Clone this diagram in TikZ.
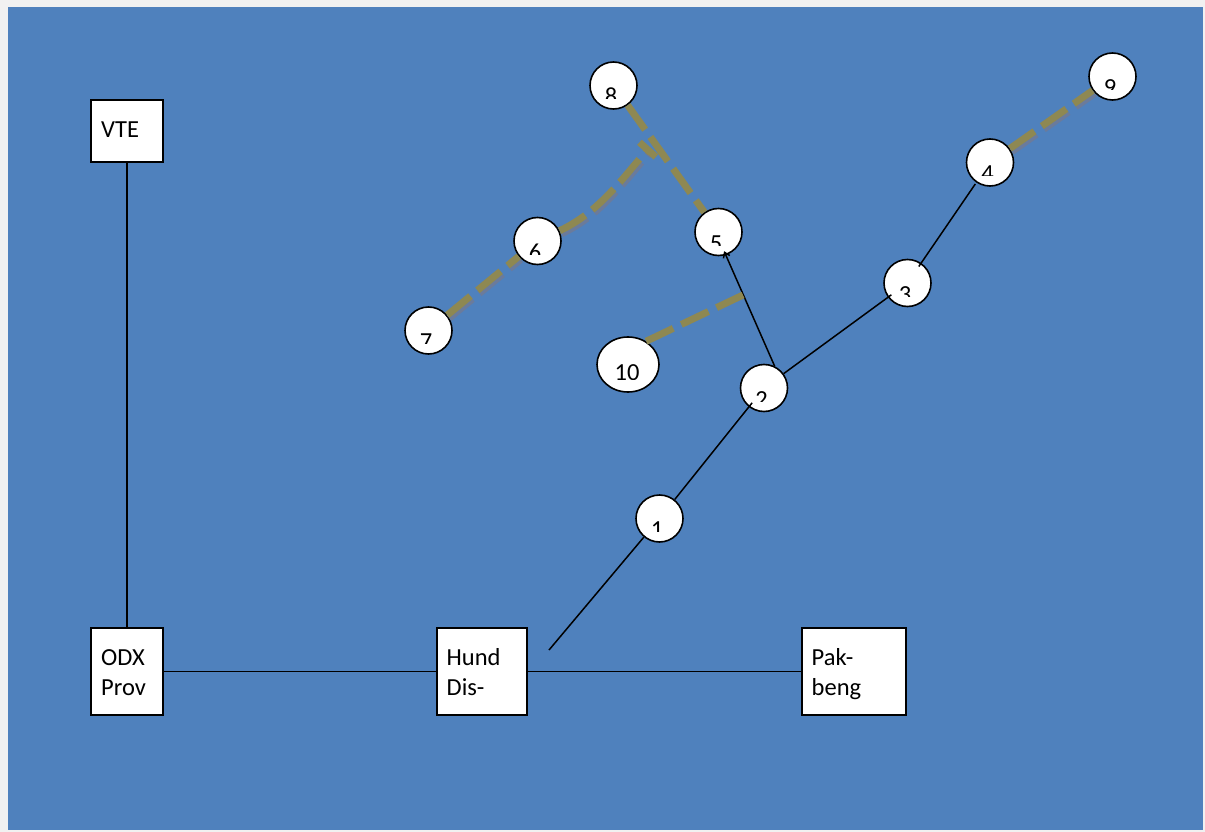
\documentclass[tikz,border=0pt]{standalone}
\usepackage{fontspec}
\setmainfont{Carlito}
\usetikzlibrary{calc,arrows.meta,shapes.geometric}
\definecolor{bg}{RGB}{79,129,189}
\definecolor{pagegray}{RGB}{241,241,241}
\definecolor{olivec}{RGB}{142,136,82}
\definecolor{shadec}{RGB}{106,123,156}
\newcommand\balltext[5]{%
  \begin{scope}
    \clip ($(#1.center)+(-32,-32)$) rectangle ($(#1.center)+(32,#4)$);
    \node[dig] (#2) at ($(#1.center)+(#5)$) {#3};
  \end{scope}}
\begin{document}
\begin{tikzpicture}[x=1pt,y=-1pt,
  box/.style={draw=black,line width=1.6pt,fill=white,inner sep=0pt,anchor=north west},
  lbl/.style={font=\fontsize{24.5}{30}\selectfont,anchor=base west,inner sep=0pt},
  ball/.style={circle,draw=black,line width=1.6pt,fill=white,minimum size=47pt,inner sep=0pt},
  oval/.style={ellipse,draw=black,line width=1.6pt,fill=white,minimum width=62pt,minimum height=55pt,inner sep=0pt},
  dig/.style={font=\fontsize{24.5}{30}\selectfont,anchor=base,inner sep=0pt},
  wire/.style={draw=black,line width=1.5pt},
  olivedash/.style={draw=olivec,line width=7pt,dash pattern=on 30pt off 9pt},
  shadowdash/.style={draw=shadec,line width=7pt,dash pattern=on 30pt off 9pt,transform canvas={xshift=2pt,yshift=-3pt}}]
\useasboundingbox (0,0) rectangle (1205,832);
\fill[pagegray] (0,0) rectangle (1205,832);
\fill[bg] (8,7) rectangle (1203,829.5);

% boxes
\node[box,minimum width=72pt,minimum height=62pt] (vte) at (90,99) {};
\node[box,minimum width=72pt,minimum height=87pt] (odx) at (90,627) {};
\node[box,minimum width=90pt,minimum height=87pt] (hund) at (436,627) {};
\node[box,minimum width=104pt,minimum height=87pt] (pak) at (801,627) {};
\node[lbl] (vtet) at (101,138) {VTE};
\node[lbl] (odxt) at (101,665) {\parbox[t]{70pt}{ODX\\Prov}};
\node[lbl] (hundt) at (446.5,665) {\parbox[t]{80pt}{Hund\\Dis-}};
\node[lbl] (pakt) at (811.5,665) {\parbox[t]{90pt}{Pak-\\beng}};

\draw[wire] (vte) -- (odx);
\draw[wire] (odx) -- (hund);
\draw[wire] (hund) -- (pak);

% circles
\node[ball] (n1) at (659.5,518.5) {};
\node[ball] (n2) at (764,388) {};
\node[ball] (n3) at (907.5,283) {};
\node[ball] (n4) at (990,162.5) {};
\node[ball] (n5) at (718.5,232) {};
\node[ball] (n6) at (537.5,241) {};
\node[ball] (n7) at (428.5,330.5) {};
\node[ball] (n8) at (613.5,85.5) {};
\node[ball] (n9) at (1112.5,76.5) {};
\node[oval] (n10) at (628,364.5) {};

\balltext{n1}{t1}{1}{13}{-2.5,19}
\balltext{n2}{t2}{2}{13}{-2.5,19}
\balltext{n3}{t3}{3}{13}{-2.5,19}
\balltext{n4}{t4}{4}{13}{-2.5,19}
\balltext{n5}{t5}{5}{13}{-2.5,19}
\balltext{n6}{t6}{6}{13}{-2.5,19}
\balltext{n7}{t7}{7}{13}{-2.5,19}
\balltext{n8}{t8}{8}{13}{-2.5,19}
\balltext{n9}{t9}{9}{13}{-2.5,19}
\balltext{n10}{t10}{10}{14.5}{-1,16}

% black connectors
\coordinate (h1) at (549,650);
\draw[wire] (h1) -- (n1);
\draw[wire] (n1) -- ($(n2.center)!19pt!(n1.center)$);
\draw[wire] (n2) -- ($(n3.center)!20pt!(n2.center)$);
\draw[wire] ($(n3.center)!20pt!(n4.center)$) -- ($(n4.center)!26pt!(n3.center)$);
\draw[wire,-{Straight Barb[length=5pt,width=7pt]}] (n2.64) -- ($(n5.center)!20pt!(n2.center)$);

% olive dashed connectors with shadows
\coordinate (jn) at (650,147);
\coordinate (c10) at (743,295);
\draw[shadowdash] (n7) -- (n6);
\draw[shadowdash] (n6.25) .. controls (600,212) and (625,175) .. (jn);
\draw[shadowdash] (n4) -- (n9);
\draw[olivedash] (n8) -- (n5);
\draw[olivedash] (n10.52) -- (c10);
\draw[olivedash] (n7) -- (n6);
\draw[olivedash,-{Bar[width=22pt]}] (n6.25) .. controls (600,212) and (625,175) .. (jn);
\draw[olivedash] (n4) -- (n9);
\end{tikzpicture}
\end{document}
